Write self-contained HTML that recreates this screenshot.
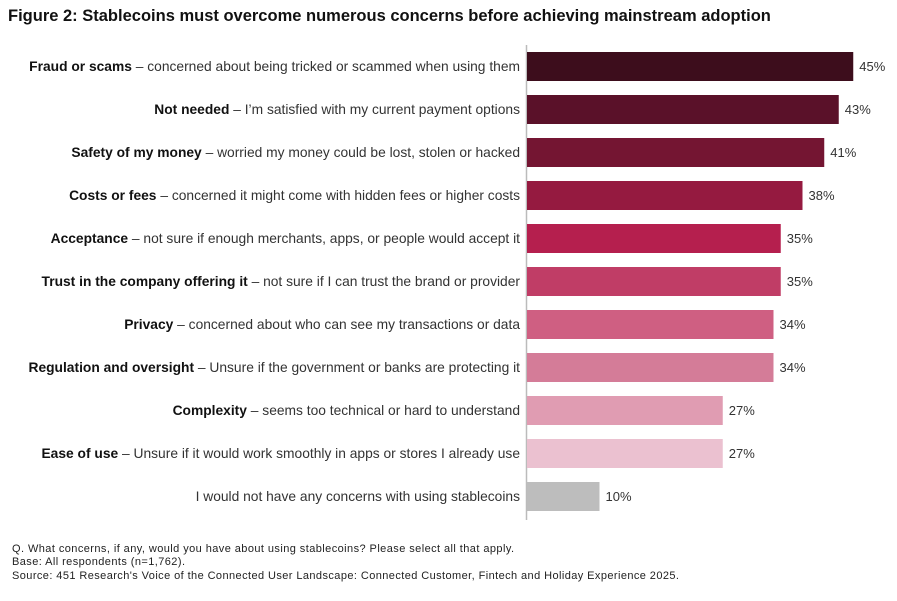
<!DOCTYPE html>
<html><head><meta charset="utf-8"><style>
body{margin:0;background:#fff;width:897px;height:596px;overflow:hidden;font-family:"Liberation Sans",sans-serif;}
svg text{font-family:"Liberation Sans",sans-serif;}
</style></head><body>
<svg id="chart" width="897" height="596">
<text x="8" y="21" font-size="16.5" font-weight="bold" fill="#111">Figure 2: Stablecoins must overcome numerous concerns before achieving mainstream adoption</text>
<line x1="526.5" y1="45" x2="526.5" y2="520" stroke="#bbb" stroke-width="1.5"/>
<g id="bars"></g>
<text x="12" y="552" font-size="11" fill="#222" textLength="502">Q. What concerns, if any, would you have about using stablecoins? Please select all that apply.</text>
<text x="12" y="565" font-size="11" fill="#222" textLength="173">Base: All respondents (n=1,762).</text>
<text x="12" y="579" font-size="11" fill="#222" textLength="667">Source: 451 Research's Voice of the Connected User Landscape: Connected Customer, Fintech and Holiday Experience 2025.</text>
</svg>
<script>
const boldLabels=["Fraud or scams","Not needed","Safety of my money","Costs or fees","Acceptance","Trust in the company offering it","Privacy","Regulation and oversight","Complexity","Ease of use",""];
const descLabels=[" – concerned about being tricked or scammed when using them"," – I’m satisfied with my current payment options"," – worried my money could be lost, stolen or hacked"," – concerned it might come with hidden fees or higher costs"," – not sure if enough merchants, apps, or people would accept it"," – not sure if I can trust the brand or provider"," – concerned about who can see my transactions or data"," – Unsure if the government or banks are protecting it"," – seems too technical or hard to understand"," – Unsure if it would work smoothly in apps or stores I already use","I would not have any concerns with using stablecoins"];
const values=[45,43,41,38,35,35,34,34,27,27,10];
const colors=["#3d0d1c","#5a1129","#741532","#951a40","#b51f4e","#c03d66","#cf5f82","#d47c98","#e09cb2","#ebc1d0","#bdbdbd"];
const ns="http://www.w3.org/2000/svg";
const g=document.getElementById('bars');
const x=v=>527+v*7.25;
const y=i=>52+i*43;
values.forEach((v,i)=>{
  const r=document.createElementNS(ns,'rect');
  r.setAttribute('x',527);r.setAttribute('y',y(i));
  r.setAttribute('width',x(v)-527);r.setAttribute('height',29);
  r.setAttribute('fill',colors[i]);
  
  
  g.appendChild(r);
  const t=document.createElementNS(ns,'text');
  t.setAttribute('x',x(v)+6);t.setAttribute('y',y(i)+19);
  t.setAttribute('font-size','13');t.setAttribute('fill','#333');
  t.textContent=v+'%';
  
  
  g.appendChild(t);
  const l=document.createElementNS(ns,'text');
  l.setAttribute('x',520);l.setAttribute('y',y(i)+19);
  l.setAttribute('text-anchor','end');l.setAttribute('font-size','13.8');l.setAttribute('fill','#333');
  if(boldLabels[i]){const b=document.createElementNS(ns,'tspan');b.setAttribute('font-weight','bold');b.setAttribute('fill','#111');b.textContent=boldLabels[i];l.appendChild(b);}
  const d=document.createElementNS(ns,'tspan');d.textContent=descLabels[i];l.appendChild(d);
  
  
  g.appendChild(l);
});
</script>
</body></html>
